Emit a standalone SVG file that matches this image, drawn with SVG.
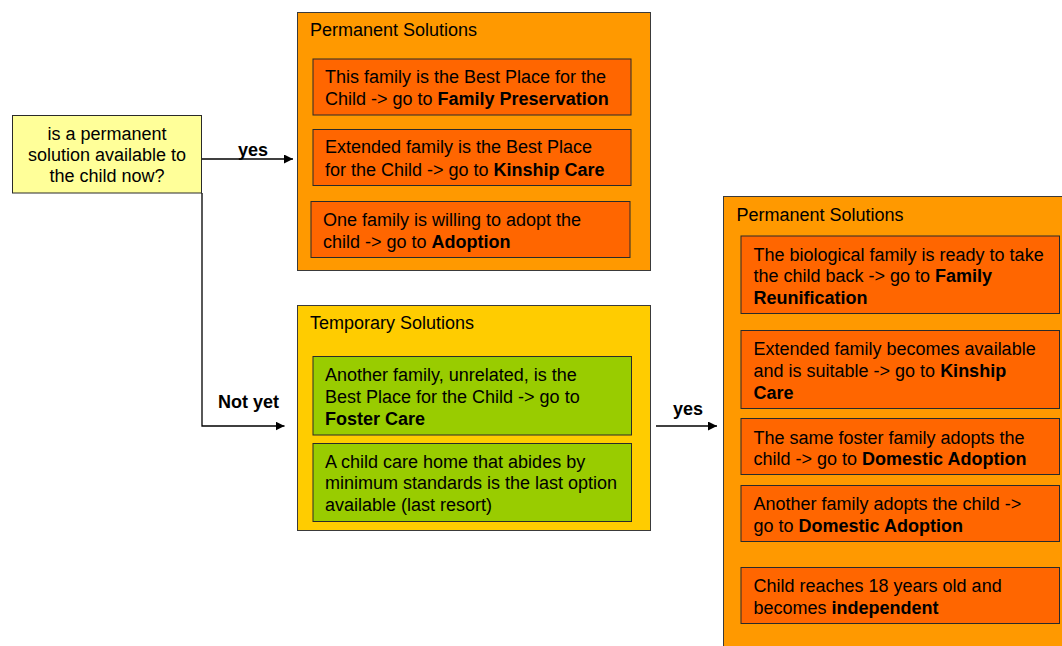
<svg xmlns="http://www.w3.org/2000/svg" width="1062" height="646" viewBox="0 0 1062 646">
<style>
text{font-family:"Liberation Sans",Arial,sans-serif;font-size:18px;fill:#000}
.b{font-weight:bold}
.outer{stroke:#3a3a3a;stroke-width:1}
.inner{stroke:#2a2a2a;stroke-width:1}
.perm{fill:#FF9900}
.temp{fill:#FFCC00}
.red{fill:#FF6600}
.green{fill:#99CC00}
.conn{fill:none;stroke:#000;stroke-width:1.3}
</style>
<defs>
<marker id="arr" viewBox="0 0 10 10" refX="10" refY="5" markerWidth="9" markerHeight="9" markerUnits="userSpaceOnUse" orient="auto">
<path d="M0,0 L10,5 L0,10 z" fill="#000"/>
</marker>
</defs>
<rect width="1062" height="646" fill="#fff"/>

<g id="question">
<rect x="12.5" y="115.5" width="189" height="77.5" fill="#FFFF99" class="inner"/>
<text x="107" y="139.5" text-anchor="middle">is a permanent</text>
<text x="107" y="160.8" text-anchor="middle">solution available to</text>
<text x="107" y="182" text-anchor="middle">the child now?</text>
</g>

<g id="permanent-top">
<rect x="297.5" y="12.5" width="353" height="258" class="perm outer"/>
<text x="310" y="36">Permanent Solutions</text>
<g id="family-preservation">
<rect x="313" y="59" width="318" height="56" class="red inner"/>
<text x="325" y="82.5">This family is the Best Place for the</text>
<text x="325" y="104.5">Child -&gt; go to <tspan class="b">Family Preservation</tspan></text>
</g>
<g id="kinship-care">
<rect x="313" y="129.5" width="318" height="56" class="red inner"/>
<text x="325" y="153.3">Extended family is the Best Place</text>
<text x="325" y="175.5">for the Child -&gt; go to <tspan class="b">Kinship Care</tspan></text>
</g>
<g id="adoption">
<rect x="311" y="201.5" width="319" height="56" class="red inner"/>
<text x="323" y="226">One family is willing to adopt the</text>
<text x="323" y="247.5">child -&gt; go to <tspan class="b">Adoption</tspan></text>
</g>
</g>

<g id="temporary">
<rect x="297.5" y="305.5" width="353" height="225" class="temp outer"/>
<text x="310" y="329">Temporary Solutions</text>
<g id="foster-care">
<rect x="313" y="356.5" width="318.5" height="78.5" class="green inner"/>
<text x="325" y="381">Another family, unrelated, is the</text>
<text x="325" y="402.7">Best Place for the Child -&gt; go to</text>
<text x="325" y="424.5" class="b">Foster Care</text>
</g>
<g id="care-home">
<rect x="313" y="443.5" width="318.5" height="78" class="green inner"/>
<text x="325" y="467.5">A child care home that abides by</text>
<text x="325" y="489">minimum standards is the last option</text>
<text x="325" y="511">available (last resort)</text>
</g>
</g>

<g id="permanent-right">
<rect x="723.5" y="196.5" width="345" height="460" class="perm outer"/>
<text x="736.5" y="221">Permanent Solutions</text>
<g id="family-reunification">
<rect x="741" y="236" width="318.5" height="77.5" class="red inner"/>
<text x="753.5" y="260.5">The biological family is ready to take</text>
<text x="753.5" y="282">the child back -&gt; go to <tspan class="b">Family</tspan></text>
<text x="753.5" y="304" class="b">Reunification</text>
</g>
<g id="kinship-care-2">
<rect x="741" y="330.5" width="318.5" height="78" class="red inner"/>
<text x="753.5" y="355.3">Extended family becomes available</text>
<text x="753.5" y="377">and is suitable -&gt; go to <tspan class="b">Kinship</tspan></text>
<text x="753.5" y="398.5" class="b">Care</text>
</g>
<g id="domestic-adoption-1">
<rect x="741" y="418.5" width="318.5" height="56" class="red inner"/>
<text x="753.5" y="443.5">The same foster family adopts the</text>
<text x="753.5" y="465.3">child -&gt; go to <tspan class="b">Domestic Adoption</tspan></text>
</g>
<g id="domestic-adoption-2">
<rect x="741" y="485.5" width="318.5" height="56" class="red inner"/>
<text x="753.5" y="510.3">Another family adopts the child -&gt;</text>
<text x="753.5" y="532">go to <tspan class="b">Domestic Adoption</tspan></text>
</g>
<g id="independent">
<rect x="741" y="567.5" width="318.5" height="56" class="red inner"/>
<text x="753.5" y="592">Child reaches 18 years old and</text>
<text x="753.5" y="613.5">becomes <tspan class="b">independent</tspan></text>
</g>
</g>

<g id="connectors">
<path class="conn" d="M202,159 H293" marker-end="url(#arr)"/>
<path class="conn" d="M202,193 V426 H284.5" marker-end="url(#arr)"/>
<path class="conn" d="M656,426 H717" marker-end="url(#arr)"/>
<text x="238" y="156" class="b">yes</text>
<text x="218" y="407.5" class="b">Not yet</text>
<text x="673" y="415" class="b">yes</text>
</g>
</svg>
